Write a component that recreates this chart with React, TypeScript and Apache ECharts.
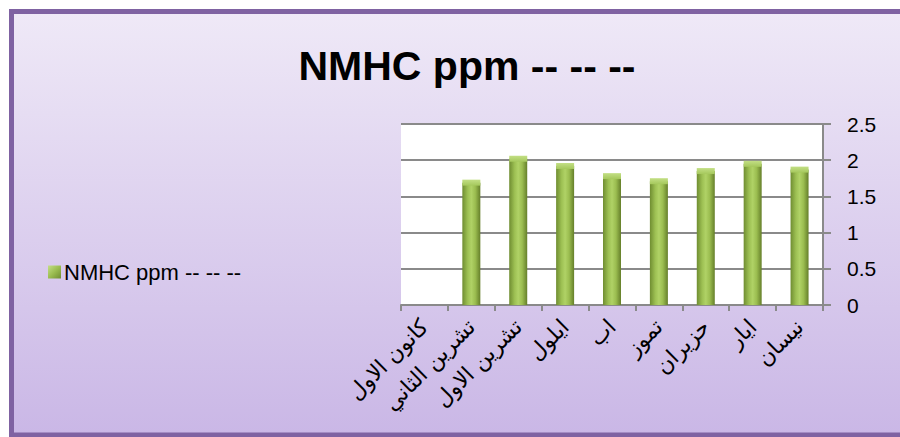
import React, { useEffect, useRef } from "react";
import * as echarts from "echarts";

const titleText = "NMHC ppm -- -- --";
const seriesName = "NMHC ppm -- -- --";
// chronological order; axis is inverted so the first month sits on the right
const months = ["نيسان", "ايار", "حزيران", "تموز", "اب", "ايلول", "تشرين الاول", "تشرين الثاني", "كانون الاول"];
const values: (number | null)[] = [1.87, 1.95, 1.85, 1.71, 1.78, 1.92, 2.02, 1.69, null];
const yMin = 0;
const yMax = 2.5;
const yStep = 0.5;

export default function App() {
  const ref = useRef<HTMLDivElement>(null);
  useEffect(() => {
    if (!ref.current) return;
    const chart = echarts.init(ref.current, undefined, { renderer: "svg" });
    const barGrad = new echarts.graphic.LinearGradient(0, 0, 1, 0, [
      { offset: 0, color: "#6f8d31" },
      { offset: 0.3, color: "#9dc053" },
      { offset: 0.5, color: "#b0d266" },
      { offset: 0.72, color: "#9bbd50" },
      { offset: 1, color: "#657f2a" },
    ]);
    const capGrad = new echarts.graphic.LinearGradient(0, 0, 0, 1, [
      { offset: 0, color: "#c3df85" },
      { offset: 1, color: "#a5c85c" },
    ]);
    const legendGrad = new echarts.graphic.LinearGradient(0, 0, 1, 1, [
      { offset: 0, color: "#c4de88" },
      { offset: 0.5, color: "#9bbd50" },
      { offset: 1, color: "#6f8d31" },
    ]);
    chart.setOption({
      animation: false,
      graphic: [
        {
          type: "rect",
          z: -10,
          shape: { x: 11.5, y: 11.5, width: 900, height: 423.5 },
          style: {
            fill: new echarts.graphic.LinearGradient(0, 0, 0, 1, [
              { offset: 0, color: "#efe9f7" },
              { offset: 1, color: "#cab7e6" },
            ]),
            stroke: "#7f62a2",
            lineWidth: 5,
          },
        },
      ],
      title: {
        text: titleText,
        left: 462,
        top: 40,
        textAlign: "center",
        textStyle: {
          fontFamily: "Liberation Sans, Arial, sans-serif",
          fontWeight: "bold",
          fontSize: 41,
          color: "#000",
        },
      },
      legend: {
        data: [{ name: seriesName, itemStyle: { color: legendGrad } }],
        orient: "vertical",
        left: 43,
        top: 256,
        itemWidth: 13,
        itemHeight: 13,
        itemGap: 6,
        icon: "rect",
        textStyle: {
          fontFamily: "Liberation Sans, Arial, sans-serif",
          fontSize: 22,
          color: "#000",
          padding: [0, 0, 0, -2],
        },
      },
      grid: {
        left: 401,
        right: 77,
        top: 124,
        bottom: 132,
        show: true,
        backgroundColor: "#ffffff",
        borderWidth: 0,
      },
      xAxis: {
        type: "category",
        data: months,
        inverse: true,
        axisLine: { show: true, lineStyle: { color: "#8a8a8a", width: 2 } },
        axisTick: { show: true, length: 6, lineStyle: { color: "#8a8a8a", width: 2 } },
        axisLabel: {
          interval: 0,
          rotate: 45,
          margin: 18,
          fontSize: 22,
          color: "#000",
          fontFamily: "DejaVu Sans, sans-serif",
        },
        splitLine: { show: false },
      },
      yAxis: {
        type: "value",
        position: "right",
        min: yMin,
        max: yMax,
        interval: yStep,
        axisLine: { show: true, lineStyle: { color: "#8a8a8a", width: 2 } },
        axisTick: { show: true, inside: false, length: 8, lineStyle: { color: "#8a8a8a", width: 2 } },
        axisLabel: {
          margin: 24,
          fontSize: 21,
          color: "#000",
          fontFamily: "Liberation Sans, Arial, sans-serif",
        },
        splitLine: { show: true, lineStyle: { color: "#8a8a8a", width: 2 } },
      },
      series: [
        {
          name: seriesName,
          type: "bar",
          data: values,
          barWidth: 18,
          itemStyle: { color: barGrad },
        },
        {
          name: "cap",
          type: "pictorialBar",
          data: values,
          symbol: "ellipse",
          symbolSize: [18, 6],
          symbolPosition: "end",
          symbolOffset: [0, "-50%"],
          z: 3,
          itemStyle: { color: capGrad },
          tooltip: { show: false },
        },
      ],
    });
    return () => chart.dispose();
  }, []);
  return (
    <div
      ref={ref}
      style={{ position: "fixed", left: 0, top: 0, width: 900, height: 437, background: "#fff" }}
    />
  );
}
